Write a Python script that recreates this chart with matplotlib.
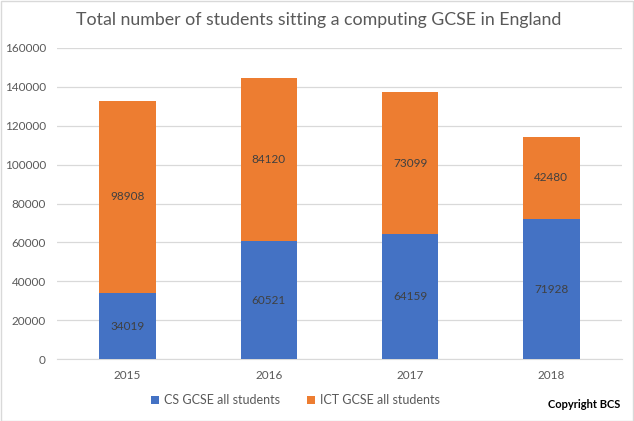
import matplotlib
matplotlib.use("Agg")
import matplotlib.pyplot as plt
from matplotlib.patches import Rectangle

plt.rcParams["font.family"] = ["Lato", "DejaVu Sans"]

YEARS = ["2015", "2016", "2017", "2018"]
CS = [34019, 60521, 64159, 71928]
ICT = [98908, 84120, 73099, 42480]
YTICKS = [0, 20000, 40000, 60000, 80000, 100000, 120000, 140000, 160000]

BLUE = "#4472c4"
ORANGE = "#ed7d31"
GREY = "#595959"

fig = plt.figure(figsize=(6.34, 4.21), dpi=100)
fig.patch.set_facecolor("white")
ax = fig.add_axes([0.09, 0.147, 0.891, 0.739])

x = range(len(YEARS))
ax.bar(x, CS, width=0.4, color=BLUE, label="CS GCSE all students", zorder=3)
ax.bar(x, ICT, width=0.4, bottom=CS, color=ORANGE,
       label="ICT GCSE all students", zorder=3)

for i in x:
    ax.text(i, CS[i] / 2, str(CS[i]), ha="center", va="center",
            fontsize=8.5, color="#404040", zorder=4)
    ax.text(i, CS[i] + ICT[i] / 2, str(ICT[i]), ha="center", va="center",
            fontsize=8.5, color="#404040", zorder=4)

ax.set_ylim(0, 160000)
ax.set_xlim(-0.5, 3.5)
ax.set_yticks(YTICKS)
ax.set_xticks(list(x))
ax.set_xticklabels(YEARS)
ax.tick_params(axis="both", length=0, labelsize=8.5, labelcolor=GREY, pad=8)
ax.grid(axis="y", color="#d9d9d9", linewidth=0.9, zorder=0)
for s in ["top", "right", "left"]:
    ax.spines[s].set_visible(False)
ax.spines["bottom"].set_color("#d9d9d9")

fig.text(0.502, 0.952, "Total number of students sitting a computing GCSE in England",
         ha="center", va="center", fontsize=12.8, color=GREY)

leg = fig.legend(loc="center", bbox_to_anchor=(0.466, 0.05), ncol=2,
                 frameon=False, fontsize=9, handlelength=0.6, handleheight=0.6,
                 columnspacing=2.2, handletextpad=0.4)
for t in leg.get_texts():
    t.set_color(GREY)

fig.text(0.922, 0.04, "Copyright BCS", ha="center", va="center",
         fontsize=8, fontweight="bold", color="black")

fig.patches.append(Rectangle((0.001, 0.001), 0.997, 0.997, transform=fig.transFigure,
                             fill=False, edgecolor="#d9d9d9", linewidth=1))

fig.savefig("out.png", dpi=100)
